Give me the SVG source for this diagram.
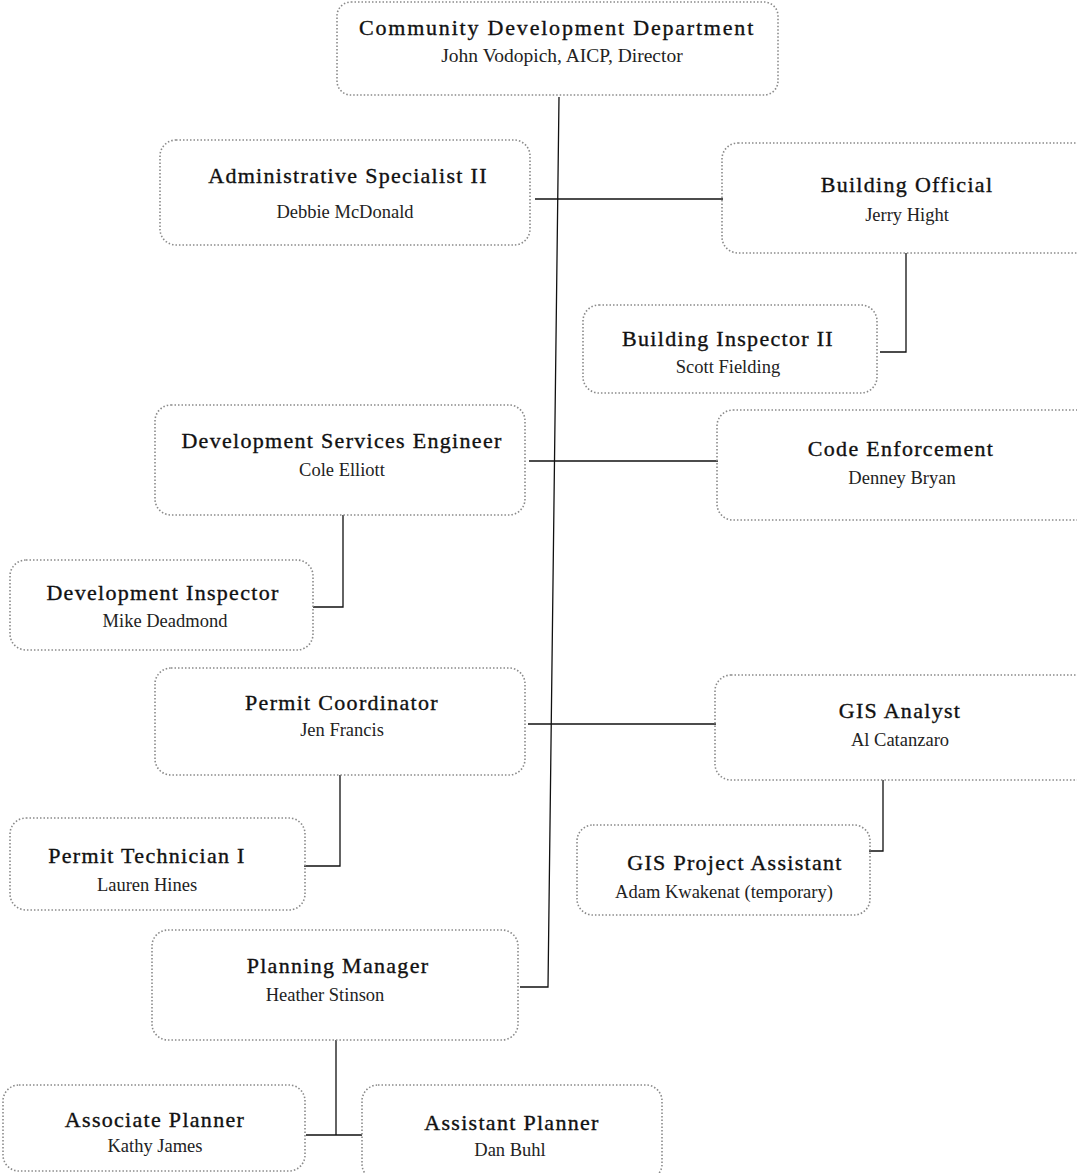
<svg xmlns="http://www.w3.org/2000/svg" width="1077" height="1173" viewBox="0 0 1077 1173">
<style>
.box{fill:none;stroke:#8a8a8a;stroke-width:1.6;stroke-dasharray:1.5 2}
.t{font-family:"Liberation Serif","Times New Roman",serif;font-size:22px;fill:#111;text-anchor:middle;letter-spacing:1.3px;stroke:#111;stroke-width:0.35}
.s{font-family:"Liberation Serif","Times New Roman",serif;font-size:18.5px;fill:#222;text-anchor:middle}
.c{fill:none;stroke:#111;stroke-width:1.3}
</style>
<rect width="1077" height="1173" fill="#fff"/>
<g id="connectors">
<path class="c" d="M559 97 L548 987 L520 987"/>
<path class="c" d="M535 199 L723 199"/>
<path class="c" d="M529 461 L718 461"/>
<path class="c" d="M528 724 L716 724"/>
<path class="c" d="M906 253 L906 352 L880 352"/>
<path class="c" d="M343 515 L343 607 L313 607"/>
<path class="c" d="M340 775 L340 866 L304 866"/>
<path class="c" d="M883 780 L883 851 L869 851"/>
<path class="c" d="M336 1040 L336 1135 L306 1135 M336 1135 L362 1135"/>
</g>
<g id="n-director"><rect class="box" x="337" y="2" width="441" height="93" rx="14"/>
<text class="t" x="557" y="35" style="letter-spacing:1.8px">Community Development Department</text>
<text class="s" x="562" y="62" style="font-size:19.5px">John Vodopich, AICP, Director</text></g>
<g id="n-admin"><rect class="box" x="160" y="140" width="370" height="105" rx="16"/>
<text class="t" x="348" y="183">Administrative Specialist II</text>
<text class="s" x="345" y="218">Debbie McDonald</text></g>
<g id="n-building-official"><rect class="box" x="722" y="143" width="370" height="110" rx="16"/>
<text class="t" x="907" y="192">Building Official</text>
<text class="s" x="907" y="221">Jerry Hight</text></g>
<g id="n-building-inspector"><rect class="box" x="583" y="305" width="294" height="88" rx="16"/>
<text class="t" x="728" y="346">Building Inspector II</text>
<text class="s" x="728" y="373">Scott Fielding</text></g>
<g id="n-dev-eng"><rect class="box" x="155" y="405" width="370" height="110" rx="16"/>
<text class="t" x="342" y="448">Development Services Engineer</text>
<text class="s" x="342" y="476">Cole Elliott</text></g>
<g id="n-code"><rect class="box" x="717" y="410" width="375" height="110" rx="16"/>
<text class="t" x="901" y="456">Code Enforcement</text>
<text class="s" x="902" y="484">Denney Bryan</text></g>
<g id="n-dev-inspector"><rect class="box" x="10" y="560" width="303" height="90" rx="16"/>
<text class="t" x="163" y="600">Development Inspector</text>
<text class="s" x="165" y="627">Mike Deadmond</text></g>
<g id="n-permit-coord"><rect class="box" x="155" y="668" width="370" height="107" rx="16"/>
<text class="t" x="342" y="710">Permit Coordinator</text>
<text class="s" x="342" y="736">Jen Francis</text></g>
<g id="n-gis"><rect class="box" x="715" y="675" width="377" height="105" rx="16"/>
<text class="t" x="900" y="718">GIS Analyst</text>
<text class="s" x="900" y="746">Al Catanzaro</text></g>
<g id="n-permit-tech"><rect class="box" x="10" y="818" width="295" height="92" rx="16"/>
<text class="t" x="147" y="863">Permit Technician I</text>
<text class="s" x="147" y="891">Lauren Hines</text></g>
<g id="n-gis-assistant"><rect class="box" x="577" y="825" width="293" height="90" rx="16"/>
<text class="t" x="735" y="870">GIS Project Assistant</text>
<text class="s" x="724" y="898">Adam Kwakenat (temporary)</text></g>
<g id="n-planning-mgr"><rect class="box" x="152" y="930" width="366" height="110" rx="16"/>
<text class="t" x="338" y="973">Planning Manager</text>
<text class="s" x="325" y="1001">Heather Stinson</text></g>
<g id="n-associate"><rect class="box" x="3" y="1085" width="302" height="86" rx="16"/>
<text class="t" x="155" y="1127">Associate Planner</text>
<text class="s" x="155" y="1152">Kathy James</text></g>
<g id="n-assistant"><rect class="box" x="362" y="1085" width="300" height="95" rx="16"/>
<text class="t" x="512" y="1130">Assistant Planner</text>
<text class="s" x="510" y="1156">Dan Buhl</text></g>
</svg>
